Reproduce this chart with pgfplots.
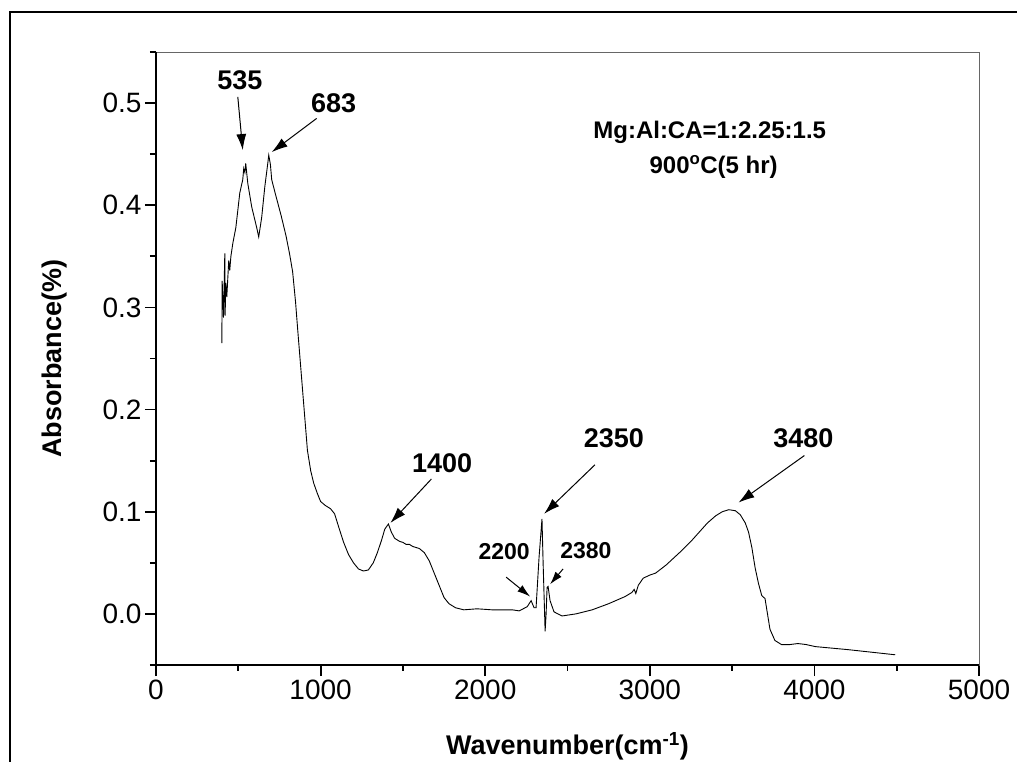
\documentclass[border=0pt]{standalone}
\usepackage{pgfplots}
\pgfplotsset{compat=1.18}
\usepackage{fontspec}
\setmainfont{Liberation Sans}
\usetikzlibrary{arrows.meta}

\pgfplotstableread{
x y
400 0.265
402 0.326
410 0.290
418 0.353
420 0.292
424 0.324
430 0.310
442 0.346
448 0.336
455 0.350
467 0.363
485 0.378
509 0.412
527 0.425
533 0.436
540 0.432
545 0.441
558 0.421
582 0.398
612 0.378
624 0.369
642 0.388
661 0.418
679 0.441
685 0.449
695 0.440
703 0.425
727 0.410
760 0.390
790 0.370
812 0.352
830 0.335
848 0.305
860 0.280
875 0.250
890 0.220
905 0.190
920 0.160
940 0.140
958 0.128
980 0.118
1000 0.110
1030 0.106
1060 0.103
1085 0.098
1110 0.085
1140 0.070
1170 0.058
1200 0.050
1230 0.044
1260 0.042
1290 0.043
1320 0.050
1345 0.060
1370 0.072
1390 0.083
1412 0.088
1430 0.080
1450 0.074
1480 0.071
1500 0.070
1520 0.068
1540 0.068
1560 0.066
1600 0.064
1630 0.060
1660 0.052
1690 0.040
1720 0.028
1750 0.016
1780 0.010
1820 0.006
1870 0.004
1950 0.005
2042 0.004
2164 0.004
2206 0.003
2255 0.007
2279 0.013
2297 0.006
2309 0.006
2327 0.055
2345 0.093
2352 0.049
2364 -0.017
2370 0.000
2376 0.026
2382 0.027
2394 0.013
2418 0.002
2467 -0.002
2550 0.000
2650 0.004
2750 0.010
2850 0.017
2891 0.021
2905 0.024
2915 0.020
2930 0.028
2960 0.035
3000 0.038
3036 0.040
3100 0.048
3194 0.062
3250 0.071
3300 0.080
3350 0.089
3400 0.096
3440 0.100
3480 0.102
3520 0.101
3550 0.097
3580 0.089
3600 0.080
3620 0.065
3640 0.045
3660 0.030
3680 0.018
3700 0.015
3712 0.003
3730 -0.015
3760 -0.026
3800 -0.030
3850 -0.030
3900 -0.029
3950 -0.030
4006 -0.032
4206 -0.035
4491 -0.040
}\spectrum

\begin{document}
\begin{tikzpicture}[x=1pt,y=1pt]
\useasboundingbox (0,0) rectangle (1017,762);
\draw[line width=2pt] (10,0) -- (10,750) -- (1017,750);
\begin{axis}[
  at={(156pt,97pt)}, anchor=south west,
  scale only axis, width=823pt, height=613pt,
  xmin=0, xmax=5000, ymin=-0.05, ymax=0.55,
  xtick={0,1000,2000,3000,4000,5000},
  ytick={0,0.1,0.2,0.3,0.4,0.5},
  minor xtick={500,1500,2500,3500,4500},
  minor ytick={-0.05,0.05,0.15,0.25,0.35,0.45,0.55},
  tick align=outside, tick pos=left,
  major tick length=11pt, minor tick length=6pt,
  tick style={black, line width=1.8pt},
  axis line style={line width=0.8pt, black!60},
  clip=false,
  tick label style={font=\fontsize{28}{32}\selectfont},
  /pgf/number format/assume math mode=true,
  /pgf/number format/1000 sep={},
  yticklabel style={/pgf/number format/.cd, fixed, fixed zerofill, precision=1},
  xlabel={Wavenumber(cm\textsuperscript{-1})},
  ylabel={Absorbance(\%)},
  xlabel style={font=\bfseries\fontsize{27}{32}\selectfont, at={(axis description cs:0.5,0)}, anchor=base, yshift=-90pt},
  ylabel style={font=\bfseries\fontsize{27}{32}\selectfont, at={(axis description cs:0,0.5)}, anchor=center, yshift=101pt},
]
\addplot[black, line width=0.9pt] table[x=x,y=y] {\spectrum};
\draw[line width=2pt, black] (rel axis cs:0,1) -- (rel axis cs:0,0) -- (rel axis cs:1,0);

\tikzset{ann/.style={font=\bfseries\fontsize{27}{31}\selectfont},
         anns/.style={font=\bfseries\fontsize{23}{27}\selectfont},
         arr/.style={-{Latex[length=16pt,width=10pt]}, line width=1pt},
         arrs/.style={-{Latex[length=13pt,width=8pt]}, line width=1pt}}
\node[ann] at (axis cs:509,0.5225) {535};
\draw[arr] (axis cs:497,0.506) -- (axis cs:527,0.454);
\node[ann] at (axis cs:1079,0.500) {683};
\draw[arr] (axis cs:976,0.485) -- (axis cs:703,0.452);
\node[ann] at (axis cs:1739,0.148) {1400};
\draw[arr] (axis cs:1673,0.132) -- (axis cs:1424,0.089);
\node[anns] at (axis cs:2115,0.061) {2200};
\draw[arrs] (axis cs:2127,0.036) -- (axis cs:2273,0.017);
\node[ann] at (axis cs:2782,0.172) {2350};
\draw[arr] (axis cs:2667,0.146) -- (axis cs:2358,0.098);
\node[anns] at (axis cs:2612,0.062) {2380};
\draw[arrs] (axis cs:2473,0.044) -- (axis cs:2394,0.029);
\node[ann] at (axis cs:3933,0.172) {3480};
\draw[arr] (axis cs:3939,0.155) -- (axis cs:3539,0.109);
\node[font=\bfseries\fontsize{24}{28}\selectfont] at (axis cs:3364,0.4716) {Mg:Al:CA=1:2.25:1.5};
\node[font=\bfseries\fontsize{24}{28}\selectfont] at (axis cs:3388,0.437) {900\textsuperscript{o}C(5 hr)};
\end{axis}
\end{tikzpicture}
\end{document}
